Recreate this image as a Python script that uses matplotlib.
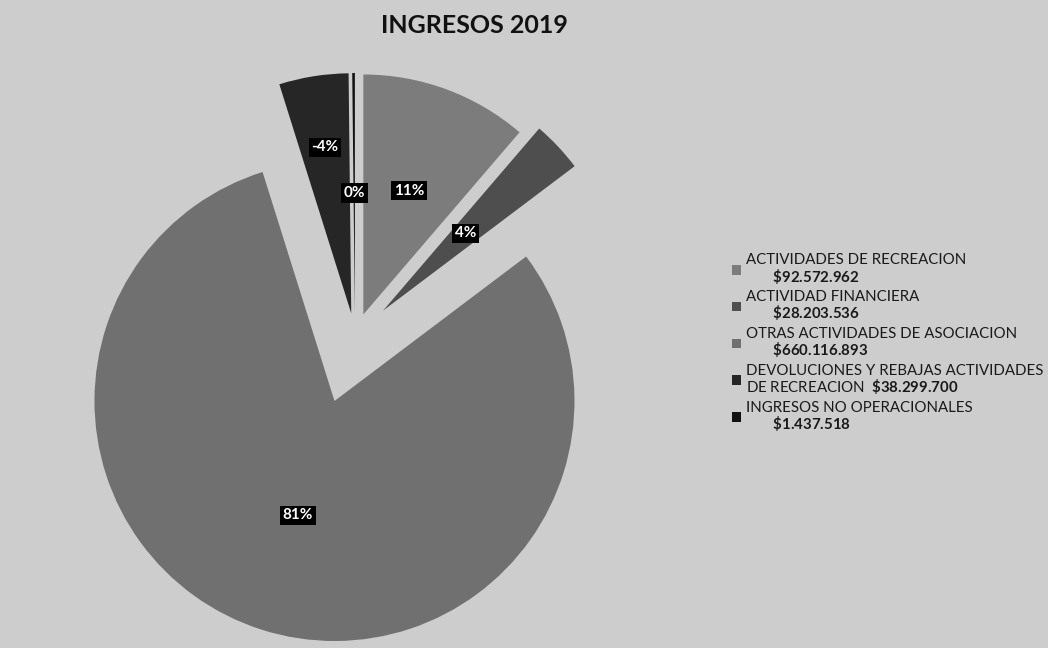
import matplotlib
matplotlib.use("Agg")
import matplotlib.pyplot as plt
import numpy as np

# data
categorias = ["ACTIVIDADES DE RECREACION", "ACTIVIDAD FINANCIERA",
              "OTRAS ACTIVIDADES DE ASOCIACION",
              "DEVOLUCIONES Y REBAJAS ACTIVIDADES\nDE RECREACION",
              "INGRESOS NO OPERACIONALES"]
valores = [92572962, 28203536, 660116893, -38299700, 1437518]
montos = ["$92.572.962", "$28.203.536", "$660.116.893", "$38.299.700", "$1.437.518"]
etiquetas_pct = ["11%", "4%", "81%", "-4%", "0%"]

colores = ["#7c7c7c", "#4e4e4e", "#707070", "#262626", "#111111"]
explode = [0.1, 0.16, 0.28, 0.1, 0.1]
dist_etiqueta = [0.55, 0.47, 0.5, 0.7, 0.5]

plt.rcParams["font.family"] = ["Lato", "DejaVu Sans"]
plt.rcParams["mathtext.fontset"] = "custom"
plt.rcParams["mathtext.bf"] = "Lato:bold"
plt.rcParams["mathtext.rm"] = "Lato"

W, H = 1048, 648
fig = plt.figure(figsize=(W / 100, H / 100), dpi=100, facecolor="#cdcdcd")
ax = fig.add_axes([0, 0, 1, 1])
ax.set_facecolor("#cdcdcd")

R = 240.0
cx, cy = 355, 311
ax.set_aspect("equal")
ax.axis("off")

it = iter(etiquetas_pct)
wedges, textos, autotextos = ax.pie(
    [abs(v) for v in valores], colors=colores, explode=explode,
    startangle=90, counterclock=False, autopct=lambda p: next(it),
    wedgeprops=dict(linewidth=0))
ax.set_xlim(-cx / R, (W - cx) / R)
ax.set_ylim(-cy / R, (H - cy) / R)

# put each label along its wedge's middle direction
for w, t, d in zip(wedges, autotextos, dist_etiqueta):
    ang = np.deg2rad((w.theta1 + w.theta2) / 2)
    t.set_position((w.center[0] + d * w.r * np.cos(ang),
                    w.center[1] + d * w.r * np.sin(ang)))
    t.set_color("white")
    t.set_fontweight("bold")
    t.set_fontsize(11)
    t.set_bbox(dict(facecolor="black", edgecolor="none", pad=2))

fig.text(0.453, 0.96, "INGRESOS 2019", ha="center", va="center",
         fontsize=18, fontweight="bold", color="#111111")

etiquetas_leyenda = []
for c, m in zip(categorias, montos):
    m_tex = r"$\mathbf{" + m.replace("$", r"\$") + "}$"
    if "\n" in c:
        etiquetas_leyenda.append(c + "  " + m_tex)
    else:
        etiquetas_leyenda.append(c + "\n       " + m_tex)

leg = fig.legend(wedges, etiquetas_leyenda, loc="upper left",
                 bbox_to_anchor=(718 / W, 1 - 240 / H), frameon=False,
                 fontsize=10.8, handlelength=0.6, handleheight=0.6,
                 handletextpad=0.4, labelspacing=0.3, labelcolor="#1a1a1a")
for t in leg.get_texts():
    t.set_linespacing(0.95)

plt.savefig("out.png", dpi=100, facecolor=fig.get_facecolor())
